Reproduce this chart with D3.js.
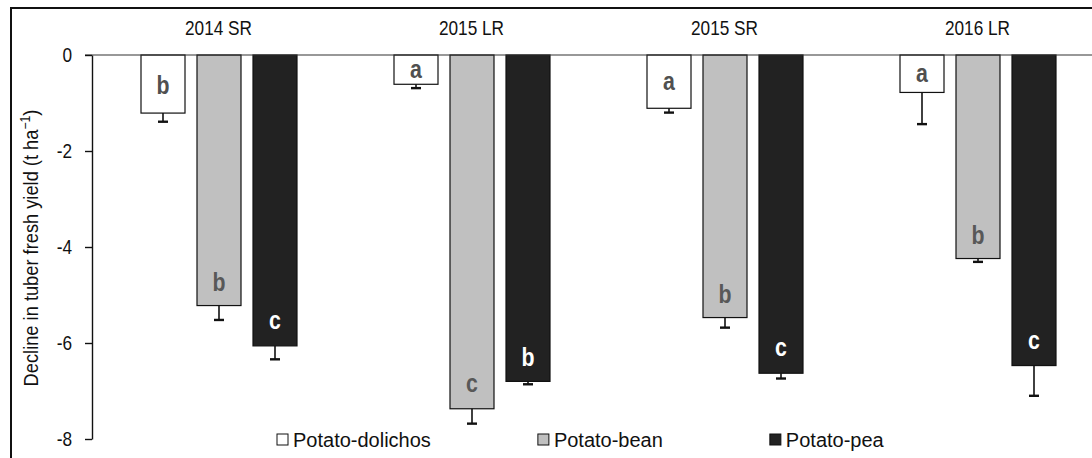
<!DOCTYPE html>
<html>
<head>
<meta charset="utf-8">
<script src="https://cdn.jsdelivr.net/npm/d3@7"></script>
<style>
  body { margin: 0; background: #fff; }
  text { font-family: "Liberation Sans", Arial, sans-serif; }
</style>
</head>
<body>
<svg width="1092" height="458"></svg>
<script>
// seasons and rotations
var seasons = ["2014 SR", "2015 LR", "2015 SR", "2016 LR"];
var rotations = ["Potato-dolichos", "Potato-bean", "Potato-pea"];

// decline in tuber fresh yield, one array per rotation (same order as seasons)
var dolichos = [-1.21, -0.61, -1.11, -0.78];
var bean     = [-5.22, -7.37, -5.47, -4.24];
var pea      = [-6.06, -6.80, -6.63, -6.47];

// standard errors (drawn downwards)
var dolichosErr = [0.18, 0.08, 0.09, 0.66];
var beanErr     = [0.30, 0.31, 0.21, 0.07];
var peaErr      = [0.28, 0.06, 0.11, 0.63];

// mean separation letters
var dolichosLetters = ["b", "a", "a", "a"];
var beanLetters     = ["b", "c", "b", "b"];
var peaLetters      = ["c", "b", "c", "c"];

var yTicks = [0, -2, -4, -6, -8];

var fills = ["#ffffff", "#c0c0c0", "#222222"];
var letterColors = ["#505050", "#585858", "#ffffff"];

var values = [dolichos, bean, pea];
var errs = [dolichosErr, beanErr, peaErr];
var letters = [dolichosLetters, beanLetters, peaLetters];

// no narrow font installed, so squeeze the text horizontally
var narrow = 0.82;

var bars = [];
seasons.forEach(function(s, i) {
    rotations.forEach(function(r, j) {
        bars.push({ season: s, rot: r, idx: j, value: values[j][i], err: errs[j][i], letter: letters[j][i] });
    });
});

var svg = d3.select("svg");

// outer frame (runs off the right and bottom edge like the original)
svg.append("rect")
    .attr("x", 11).attr("y", 8)
    .attr("width", 1120).attr("height", 480)
    .attr("fill", "none")
    .attr("stroke", "#111")
    .attr("stroke-width", 2);

var plotLeft = 92, plotTop = 55;
var x0 = d3.scaleBand().domain(seasons).range([plotLeft, plotLeft + 4 * 253]).padding(0);
var x1 = d3.scaleBand().domain(rotations).range([49, 253 - 48]).paddingInner(12 / 56);
var y = d3.scaleLinear().domain([0, -8]).range([plotTop, plotTop + 384]);

var g = svg.append("g");

// season labels
g.selectAll(".season")
    .data(seasons)
    .enter().append("text")
    .attr("transform", function(d) {
        return "translate(" + (x0(d) + x0.bandwidth() / 2) + ",35) scale(" + narrow + ",1)";
    })
    .attr("text-anchor", "middle")
    .attr("font-size", 21)
    .attr("fill", "#111")
    .text(function(d) { return d; });

// bars
g.selectAll(".bar")
    .data(bars)
    .enter().append("rect")
    .attr("x", function(d) { return x0(d.season) + x1(d.rot); })
    .attr("y", y(0))
    .attr("width", x1.bandwidth())
    .attr("height", function(d) { return y(d.value) - y(0); })
    .attr("fill", function(d) { return fills[d.idx]; })
    .attr("stroke", "#111")
    .attr("stroke-width", 1.2);

// error bars
var eb = g.selectAll(".err")
    .data(bars)
    .enter().append("g");
eb.append("line")
    .attr("x1", function(d) { return x0(d.season) + x1(d.rot) + x1.bandwidth() / 2; })
    .attr("x2", function(d) { return x0(d.season) + x1(d.rot) + x1.bandwidth() / 2; })
    .attr("y1", function(d) { return y(d.value); })
    .attr("y2", function(d) { return y(d.value - d.err); })
    .attr("stroke", "#111")
    .attr("stroke-width", 1.6);
eb.append("line")
    .attr("x1", function(d) { return x0(d.season) + x1(d.rot) + x1.bandwidth() / 2 - 5; })
    .attr("x2", function(d) { return x0(d.season) + x1(d.rot) + x1.bandwidth() / 2 + 5; })
    .attr("y1", function(d) { return y(d.value - d.err); })
    .attr("y2", function(d) { return y(d.value - d.err); })
    .attr("stroke", "#111")
    .attr("stroke-width", 2.4);

// letters
g.selectAll(".letter")
    .data(bars)
    .enter().append("text")
    .attr("transform", function(d) {
        var h = y(d.value) - y(0);
        var c = h < 80 ? y(0) + h / 2 + 1 : y(d.value) - 24;
        var by = c + (d.letter === "b" ? 9 : 7);
        return "translate(" + (x0(d.season) + x1(d.rot) + x1.bandwidth() / 2) + "," + by + ") scale(" + narrow + ",1)";
    })
    .attr("text-anchor", "middle")
    .attr("font-size", 26)
    .attr("font-weight", "bold")
    .attr("fill", function(d) { return letterColors[d.idx]; })
    .text(function(d) { return d.letter; });

// zero line
g.append("line")
    .attr("x1", plotLeft - 7).attr("x2", 1092)
    .attr("y1", y(0)).attr("y2", y(0))
    .attr("stroke", "#333").attr("stroke-width", 1.2);

// y axis
var yAxis = g.append("g")
    .attr("transform", "translate(" + plotLeft + ",0)")
    .call(d3.axisLeft(y).tickValues(yTicks).tickSize(7).tickSizeOuter(0)
        .tickFormat(function(d) { return String(d); }));
yAxis.select(".domain").attr("stroke", "#111").attr("stroke-width", 1.4);
yAxis.selectAll(".tick line").attr("stroke", "#111").attr("stroke-width", 1.4);
yAxis.selectAll(".tick text")
    .attr("x", -20 / narrow)
    .attr("transform", "scale(" + narrow + ",1)")
    .attr("font-size", 21)
    .attr("font-family", null)
    .attr("fill", "#111");

// y title
var yt = g.append("text")
    .attr("transform", "translate(38,248) rotate(-90) scale(0.87,1)")
    .attr("text-anchor", "middle")
    .attr("font-size", 21)
    .attr("fill", "#111");
yt.append("tspan").text("Decline in tuber fresh yield (t ha");
yt.append("tspan").attr("dy", -8).attr("font-size", 14).text("\u22121");
yt.append("tspan").attr("dy", 8).text(")");

// legend
var lx = 277, ly = 440;
rotations.forEach(function(r, j) {
    var lg = g.append("g").attr("transform", "translate(" + lx + "," + ly + ")");
    lg.append("rect")
        .attr("x", 0).attr("y", -6)
        .attr("width", 11).attr("height", 11)
        .attr("fill", fills[j])
        .attr("stroke", "#111").attr("stroke-width", 1);
    var t = lg.append("text")
        .attr("x", 16).attr("y", 7)
        .attr("font-size", 20)
        .attr("fill", "#111")
        .text(r);
    lx += 16 + t.node().getComputedTextLength() + 107;
});
</script>
</body>
</html>
